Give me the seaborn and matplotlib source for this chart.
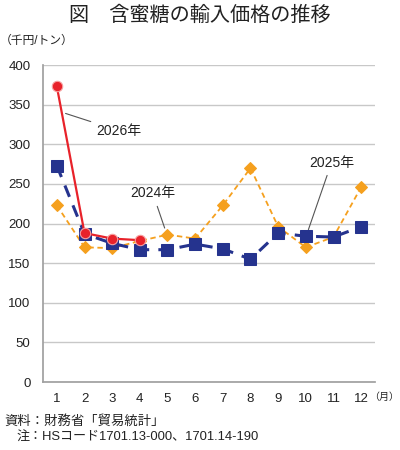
import matplotlib
matplotlib.use("Agg")
import matplotlib.pyplot as plt
import seaborn as sns
import pandas as pd

months = list(range(1, 13))
month_labels = [str(m) for m in months]
y2024 = [223, 170, 169, 178, 186, 181, 223, 270, 196, 170, 183, 246]
y2025 = [273, 187, 175, 167, 167, 174, 168, 155, 188, 184, 183, 196]
m2026 = [1, 2, 3, 4]
y2026 = [373, 188, 181, 179]
yticks = [0, 50, 100, 150, 200, 250, 300, 350, 400]

sns.set_theme(style="white")
plt.rcParams['font.family'] = ['Liberation Sans', 'Noto Sans CJK JP', 'DejaVu Sans']

fig = plt.figure(figsize=(4, 4.5), dpi=100)
ax = fig.add_axes([0.1075, 0.151, 0.83, 0.7045])

df24 = pd.DataFrame({"m": months, "v": y2024})
df25 = pd.DataFrame({"m": months, "v": y2025})
df26 = pd.DataFrame({"m": m2026, "v": y2026})

sns.lineplot(data=df24, x="m", y="v", ax=ax, color="#F5A01E", lw=1.3,
             linestyle=(0, (3, 2)), marker="D", markersize=6,
             markeredgecolor="#F5A01E", zorder=3)
sns.lineplot(data=df25, x="m", y="v", ax=ax, color="#25338E", lw=2.2,
             linestyle=(0, (4, 3)), marker="s", markersize=8,
             markeredgecolor="#25338E", zorder=4)
sns.lineplot(data=df26, x="m", y="v", ax=ax, color="#E8222A", lw=1.6,
             marker="o", markersize=7.5, markeredgecolor="#F7A0A0",
             markeredgewidth=0.8, zorder=5)

ax.set_xlim(0.5, 12.5)
ax.set_ylim(0, 400)
ax.set_yticks(yticks)
ax.set_xticks(months)
ax.set_xticklabels(month_labels)
ax.grid(axis="y", color="#C8C8C8", lw=1.0)
ax.set_axisbelow(True)
for s in ["top", "right"]:
    ax.spines[s].set_visible(False)
ax.spines["left"].set_color("#A0A0A0")
ax.spines["bottom"].set_color("#A0A0A0")
ax.tick_params(axis="both", length=0, labelsize=9.5, colors="#222222")
ax.tick_params(axis="x", pad=8)
ax.tick_params(axis="y", pad=9)
ax.set_xlabel("")
ax.set_ylabel("")

ann = dict(arrowprops=dict(arrowstyle="-", color="#555555", lw=0.8),
           fontsize=10, color="#222222", va="center")
ax.annotate("2026年", xy=(1.22, 340), xytext=(2.44, 317), ha="left", **ann)
ax.annotate("2024年", xy=(4.93, 191), xytext=(4.47, 238), ha="center", **ann)
ax.annotate("2025年", xy=(10.06, 189), xytext=(10.93, 277), ha="center", **ann)

fig.text(0.5, 0.966, "図　含蜜糖の輸入価格の推移", ha="center", va="center",
         fontsize=14.5, color="#222222")
fig.text(0.0, 0.91, "（千円/トン）", ha="left", va="center", fontsize=8.5, color="#222222")
fig.text(0.998, 0.118, "（月）", ha="right", va="center", fontsize=7.2, color="#222222")
fig.text(0.012, 0.064, "資料：財務省「貿易統計」", ha="left", va="center",
         fontsize=9.6, color="#222222")
fig.text(0.042, 0.027, "注：HSコード1701.13-000、1701.14-190", ha="left", va="center",
         fontsize=9.4, color="#222222")

fig.savefig("out.png", dpi=100, facecolor="white")
